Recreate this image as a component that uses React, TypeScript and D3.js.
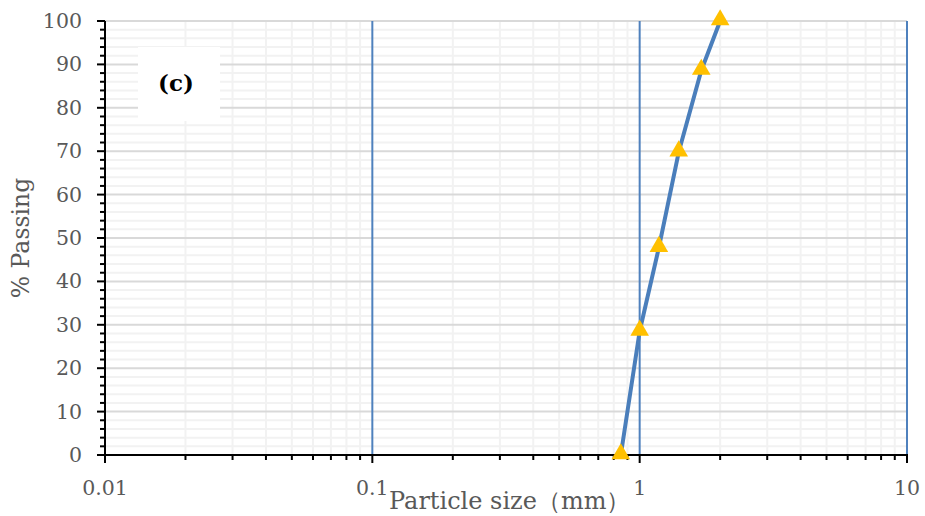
import React from "react";
import * as d3 from "d3";

const sizes = [0.85, 1.0, 1.18, 1.4, 1.7, 2.0];
const passing = [0, 28.5, 47.8, 69.8, 88.6, 100];
const xMajorTicks = [0.01, 0.1, 1, 10];
const xTickLabels = ["0.01", "0.1", "1", "10"];
const yMajorTicks = [0, 10, 20, 30, 40, 50, 60, 70, 80, 90, 100];
const xTitle = "Particle size（mm）";
const yTitle = "% Passing";
const panelLabel = "(c)";

const W = 925;
const H = 516;
const left = 105;
const right = 907;
const top = 21;
const bottom = 455;

export default function App() {
  const x = d3.scaleLog().domain([0.01, 10]).range([left, right]);
  const y = d3.scaleLinear().domain([0, 100]).range([bottom, top]);

  const xMinor: number[] = [];
  for (let e = -2; e <= 0; e++) {
    for (let k = 2; k <= 9; k++) xMinor.push(k * Math.pow(10, e));
  }
  const yMinor = d3.range(0, 101, 2).filter((v) => v % 10 !== 0);

  const line = d3
    .line<number>()
    .x((_, i) => x(sizes[i]))
    .y((d) => y(d));

  const tri = d3.symbol().type(d3.symbolTriangle).size(150)();

  const font = "'DejaVu Serif', serif";
  const grey = "#595959";

  return (
    <svg width={W} height={H} style={{ position: "absolute", left: 0, top: 0, background: "#fff" }}>
      <rect x={0} y={0} width={W} height={H} fill="#fff" />
      {yMinor.map((v) => (
        <line key={"hm" + v} x1={left} x2={right} y1={y(v)} y2={y(v)} stroke="#f2f2f2" strokeWidth={2} />
      ))}
      {xMinor.map((v) => (
        <line key={"vm" + v} x1={x(v)} x2={x(v)} y1={top} y2={bottom} stroke="#f2f2f2" strokeWidth={2} />
      ))}
      {yMajorTicks.map((v) => (
        <line key={"hM" + v} x1={left} x2={right} y1={y(v)} y2={y(v)} stroke="#d9d9d9" strokeWidth={2} />
      ))}
      {xMajorTicks.slice(1).map((v) => (
        <line key={"vM" + v} x1={x(v)} x2={x(v)} y1={top} y2={bottom} stroke="#4f81bd" strokeWidth={2} />
      ))}
      <rect x={138} y={47} width={82} height={74} fill="#fff" />
      <text x={176} y={91} textAnchor="middle" fontFamily={font} fontWeight="bold" fontSize={23} fill="#000">
        {panelLabel}
      </text>
      <line x1={left} x2={left} y1={top} y2={bottom + 1} stroke="#000" strokeWidth={2} />
      {yMajorTicks.map((v) => (
        <line key={"yt" + v} x1={left - 8} x2={left} y1={y(v)} y2={y(v)} stroke="#000" strokeWidth={2} />
      ))}
      {yMinor.map((v) => (
        <line key={"ytm" + v} x1={left - 5} x2={left} y1={y(v)} y2={y(v)} stroke="#000" strokeWidth={2} />
      ))}
      {yMajorTicks.map((v) => (
        <text key={"yl" + v} x={82} y={y(v) + 7} textAnchor="end" fontFamily={font} fontSize={20.5} fill={grey}>
          {v}
        </text>
      ))}
      <line x1={left - 1} x2={right + 1} y1={bottom} y2={bottom} stroke="#000" strokeWidth={2} />
      {xMajorTicks.map((v) => (
        <line key={"xt" + v} x1={x(v)} x2={x(v)} y1={bottom} y2={bottom + 8} stroke="#000" strokeWidth={2} />
      ))}
      {xMinor.map((v) => (
        <line key={"xtm" + v} x1={x(v)} x2={x(v)} y1={bottom} y2={bottom + 5} stroke="#000" strokeWidth={2} />
      ))}
      {xMajorTicks.map((v, i) => (
        <text key={"xl" + v} x={x(v)} y={495} textAnchor="middle" fontFamily={font} fontSize={20.5} fill={grey}>
          {xTickLabels[i]}
        </text>
      ))}
      <text x={389} y={509} fontFamily={font} fontSize={24} fill={grey}>
        {xTitle}
      </text>
      <text
        transform={`translate(29, 238) rotate(-90)`}
        textAnchor="middle"
        fontFamily={font}
        fontSize={23.5}
        fill={grey}
      >
        {yTitle}
      </text>
      <path d={line(passing) || ""} fill="none" stroke="#4a7ebb" strokeWidth={4} strokeLinejoin="round" />
      {passing.map((v, i) => (
        <path key={"m" + i} d={tri || ""} transform={`translate(${x(sizes[i])},${y(v) - 1})`} fill="#ffc000" />
      ))}
    </svg>
  );
}
